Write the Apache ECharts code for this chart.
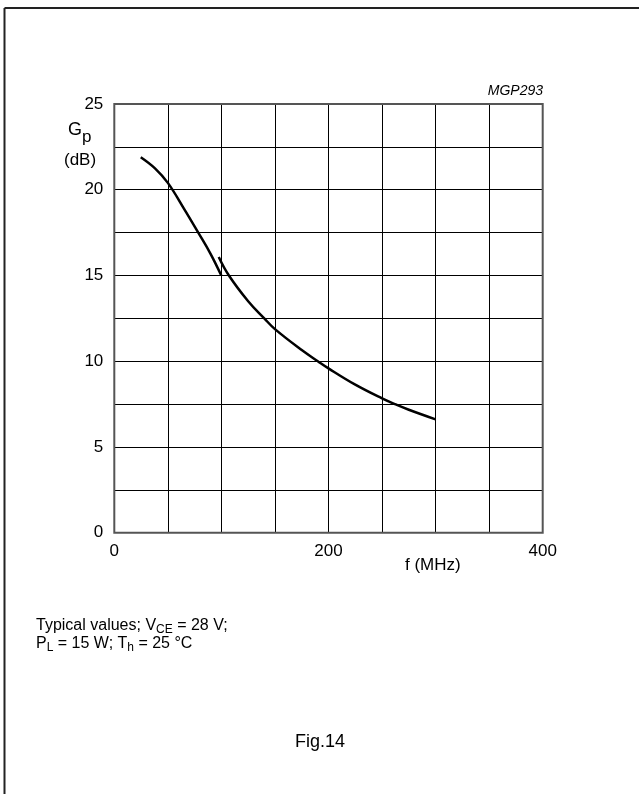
<!DOCTYPE html>
<html>
<head>
<meta charset="utf-8">
<script src="https://cdn.jsdelivr.net/npm/echarts@6/dist/echarts.min.js"></script>
<style>
html,body{margin:0;padding:0;background:#fff;}
#c{width:639px;height:794px;}
</style>
</head>
<body>
<div id="c"></div>
<script>
// Frequency f (MHz) and power gain Gp (dB)
const freqLow = [24.7, 38, 50, 65, 78.4, 90, 99.9];
const gainLow = [21.9, 21.25, 20.4, 18.9, 17.5, 16.25, 15.0];
const freqHigh = [97.5, 107, 125, 140, 150, 175, 190, 200, 225, 250, 262, 275, 300];
const gainHigh = [16.08, 15.0, 13.5, 12.5, 11.87, 10.65, 10.0, 9.58, 8.63, 7.83, 7.5, 7.17, 6.61];
const xTickLabels = [0, 200, 400];
const yTickLabels = [0, 5, 10, 15, 20, 25];

const pair = (xs, ys) => xs.map((x, i) => [x, ys[i]]);
const FONT = 'Liberation Sans, Arial, sans-serif';

const chart = echarts.init(document.getElementById('c'), null, {renderer: 'canvas'});
chart.setOption({
  backgroundColor: '#fff',
  animation: false,
  grid: {left: 114.3, top: 104, right: 96.3, bottom: 261.3, containLabel: false},
  xAxis: {
    type: 'value', min: 0, max: 400, interval: 50,
    axisLine: {show: false},
    axisTick: {show: false},
    splitLine: {show: true, lineStyle: {color: '#000', width: 1}},
    axisLabel: {
      color: '#000', fontFamily: FONT, fontSize: 17, margin: 10,
      formatter: v => xTickLabels.includes(v) ? String(v) : ''
    }
  },
  yAxis: {
    type: 'value', min: 0, max: 25, interval: 2.5,
    axisLine: {show: false},
    axisTick: {show: false},
    splitLine: {show: true, lineStyle: {color: '#000', width: 1}},
    axisLabel: {
      color: '#000', fontFamily: FONT, fontSize: 17, margin: 11,
      formatter: v => yTickLabels.includes(v) ? String(v) : ''
    }
  },
  series: [
    {type: 'line', data: pair(freqLow, gainLow), smooth: 0.4, symbol: 'none',
     lineStyle: {color: '#000', width: 2.5}},
    {type: 'line', data: pair(freqHigh, gainHigh), smooth: 0.4, symbol: 'none',
     lineStyle: {color: '#000', width: 2.5}}
  ],
  graphic: [
    {type: 'rect', shape: {x: 114.3, y: 104, width: 428.4, height: 428.7}, z: 10,
     style: {fill: 'none', stroke: '#555', lineWidth: 2}},
    {type: 'line', shape: {x1: 4.5, y1: 8, x2: 639, y2: 8}, style: {stroke: '#222', lineWidth: 2}},
    {type: 'line', shape: {x1: 4.5, y1: 8, x2: 4.5, y2: 794}, style: {stroke: '#222', lineWidth: 2}},
    {type: 'text', left: 68, top: 121, style: {
      text: '{g|G}{s|p}', rich: {
        g: {fontFamily: FONT, fontSize: 18, fill: '#000', verticalAlign: 'top'},
        s: {fontFamily: FONT, fontSize: 17, fill: '#000', padding: [8, 0, 0, 0]}
      }}},
    {type: 'text', left: 64, top: 152, style: {text: '(dB)', fontFamily: FONT, fontSize: 17, fill: '#000'}},
    {type: 'text', left: 405, top: 557, style: {text: 'f (MHz)', fontFamily: FONT, fontSize: 17, fill: '#000'}},
    {type: 'text', right: 96, top: 84, style: {text: 'MGP293', fontFamily: FONT, fontSize: 14, fontStyle: 'italic', fill: '#000'}},
    {type: 'text', left: 36, top: 617, style: {
      text: 'Typical values; V{s|CE} = 28 V;\nP{s|L} = 15 W; T{s|h} = 25 °C',
      fontFamily: FONT, fontSize: 16, fill: '#000', lineHeight: 18,
      rich: {s: {fontFamily: FONT, fontSize: 12, fill: '#000', padding: [7, 0, 0, 0]}}
    }},
    {type: 'text', left: 295, top: 733, style: {text: 'Fig.14', fontFamily: FONT, fontSize: 18, fill: '#000'}}
  ]
});
</script>
</body>
</html>
